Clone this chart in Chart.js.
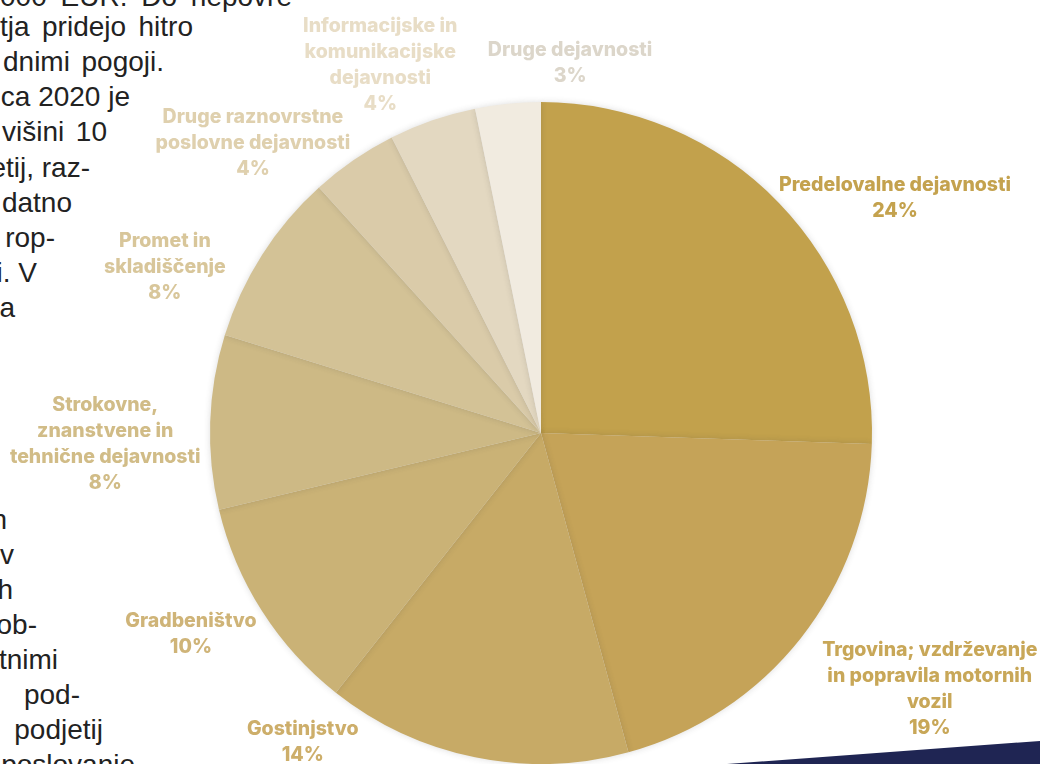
<!DOCTYPE html>
<html>
<head>
<meta charset="utf-8">
<script src="https://cdn.jsdelivr.net/npm/chart.js@4/dist/chart.umd.min.js"></script>
<style>
  html, body { margin:0; padding:0; background:#fff; }
  #wrap { position:relative; width:1040px; height:764px; overflow:hidden; background:#fff; }
  #body-text { position:absolute; left:0; top:0; width:1040px; height:764px; overflow:hidden; }
  .ln { position:absolute; white-space:pre; font-family:"Liberation Sans", Arial, sans-serif; font-size:28px; color:#222; line-height:32px; }
  #navy { position:absolute; left:0; top:0; width:1040px; height:764px; }
  #chart-box { position:absolute; left:0; top:0; width:1040px; height:764px; }
</style>
</head>
<body>
<div id="wrap">
  <div id="body-text"></div>
  <svg id="navy" width="1040" height="764"><polygon points="727,764 1040,741 1040,764" fill="#1f2553"/></svg>
  <div id="chart-box"><canvas id="c"></canvas></div>
</div>
<script>
// ---- data ----
const categories = [
  ["Predelovalne dejavnosti"],
  ["Trgovina; vzdrževanje", "in popravila motornih", "vozil"],
  ["Gostinjstvo"],
  ["Gradbeništvo"],
  ["Strokovne,", "znanstvene in", "tehnične dejavnosti"],
  ["Promet in", "skladiščenje"],
  ["Druge raznovrstne", "poslovne dejavnosti"],
  ["Informacijske in", "komunikacijske", "dejavnosti"],
  ["Druge dejavnosti"]
];
const values = [24, 19, 14, 10, 8, 8, 4, 4, 3];
const sliceColors = ["#c2a14c", "#c5a358", "#c7aa66", "#cab276", "#cdb985", "#d3c296", "#dacba9", "#e3d8c1", "#f1ebe0"];
const labelColors = ["#c4a24e", "#c8a758", "#cdae6a", "#cfb478", "#d1bc87", "#d8c69a", "#dfd0ae", "#e8ddc6", "#dcd6ca"];

// body text fragments: [text, left x (null = right aligned only), right x, baseline y]
const textLines = [
  ["000 EUR. Do nepovre", 0, 292, 7],
  ["tja pridejo hitro", 0, 193, 37],
  ["dnimi pogoji.", 3, 164, 72],
  ["ca 2020 je", 2, 130, 107],
  ["višini 10", 2, 107, 142],
  ["etij, raz-", 0, 90, 178],
  ["datno", null, 72, 213],
  ["rop-", null, 55, 248],
  ["i. V", 0, 37, 283],
  ["a", null, 15, 318],
  ["n", null, 7, 530],
  ["v", null, 14, 565],
  ["h", null, 13, 600],
  ["ob-", null, 37, 635],
  ["tnimi", null, 58, 670],
  ["pod-", null, 80, 705],
  ["podjetij", null, 103, 740],
  ["poslovanje", null, 135, 775]
];

// label layout: polar position (deg clockwise from top, distance as fraction of radius)
const labelAngles = [56.4, 123.4, 217.6, 240.1, 268.6, 293.8, 315.2, 336.4, 4.5];
const labelDists  = [1.284, 1.407, 1.18, 1.22, 1.317, 1.242, 1.235, 1.213, 1.12];

// ---- body text (justified fragments) ----
const bt = document.getElementById('body-text');
textLines.forEach(([t, l, r, b]) => {
  const d = document.createElement('div');
  d.className = 'ln';
  d.textContent = t;
  d.style.top = (b - 26) + 'px';
  bt.appendChild(d);
  const w = d.getBoundingClientRect().width;
  const spaces = (t.match(/ /g) || []).length;
  if (l !== null && spaces > 0 && w < r - l) {
    d.style.wordSpacing = ((r - l - w) / spaces) + 'px';
    d.style.left = l + 'px';
  } else {
    d.style.left = (r - w) + 'px';
  }
});

// ---- plugins ----
const shadowPlugin = {
  id: 'sliceShadow',
  beforeDatasetDraw(chart) {
    const ctx = chart.ctx;
    ctx.save();
    ctx.shadowColor = 'rgba(60,60,60,0.18)';
    ctx.shadowBlur = 6;
    ctx.shadowOffsetX = 0;
    ctx.shadowOffsetY = 0;
  },
  afterDatasetDraw(chart) {
    chart.ctx.restore();
  }
};

const labelPlugin = {
  id: 'outLabels',
  afterDatasetsDraw(chart) {
    const ctx = chart.ctx;
    const meta = chart.getDatasetMeta(0);
    const ds = chart.data.datasets[0];
    ctx.save();
    ctx.font = '800 19.5px Inter, "Noto Sans", sans-serif';
    ctx.textAlign = 'center';
    ctx.textBaseline = 'middle';
    const lh = 26;
    meta.data.forEach((arc, i) => {
      const cx = arc.x, cy = arc.y, r = arc.outerRadius;
      const a = labelAngles[i] * Math.PI / 180;
      const px = cx + Math.sin(a) * r * labelDists[i];
      const py = cy - Math.cos(a) * r * labelDists[i];
      const lines = chart.data.labels[i].concat([ds.data[i] + '%']);
      const y0 = py - (lines.length - 1) * lh / 2;
      ctx.fillStyle = labelColors[i];
      lines.forEach((l, k) => ctx.fillText(l, px, y0 + k * lh));
    });
    ctx.restore();
  }
};

new Chart(document.getElementById('c'), {
  type: 'pie',
  data: {
    labels: categories,
    datasets: [{
      data: values,
      backgroundColor: sliceColors,
      borderWidth: 0,
      hoverOffset: 0,
      offset: 0
    }]
  },
  options: {
    responsive: true,
    maintainAspectRatio: false,
    animation: false,
    layout: { padding: { left: 210, right: 168, top: 102, bottom: 0 } },
    plugins: {
      legend: { display: false },
      tooltip: { enabled: false }
    }
  },
  plugins: [shadowPlugin, labelPlugin]
});
</script>
</body>
</html>
